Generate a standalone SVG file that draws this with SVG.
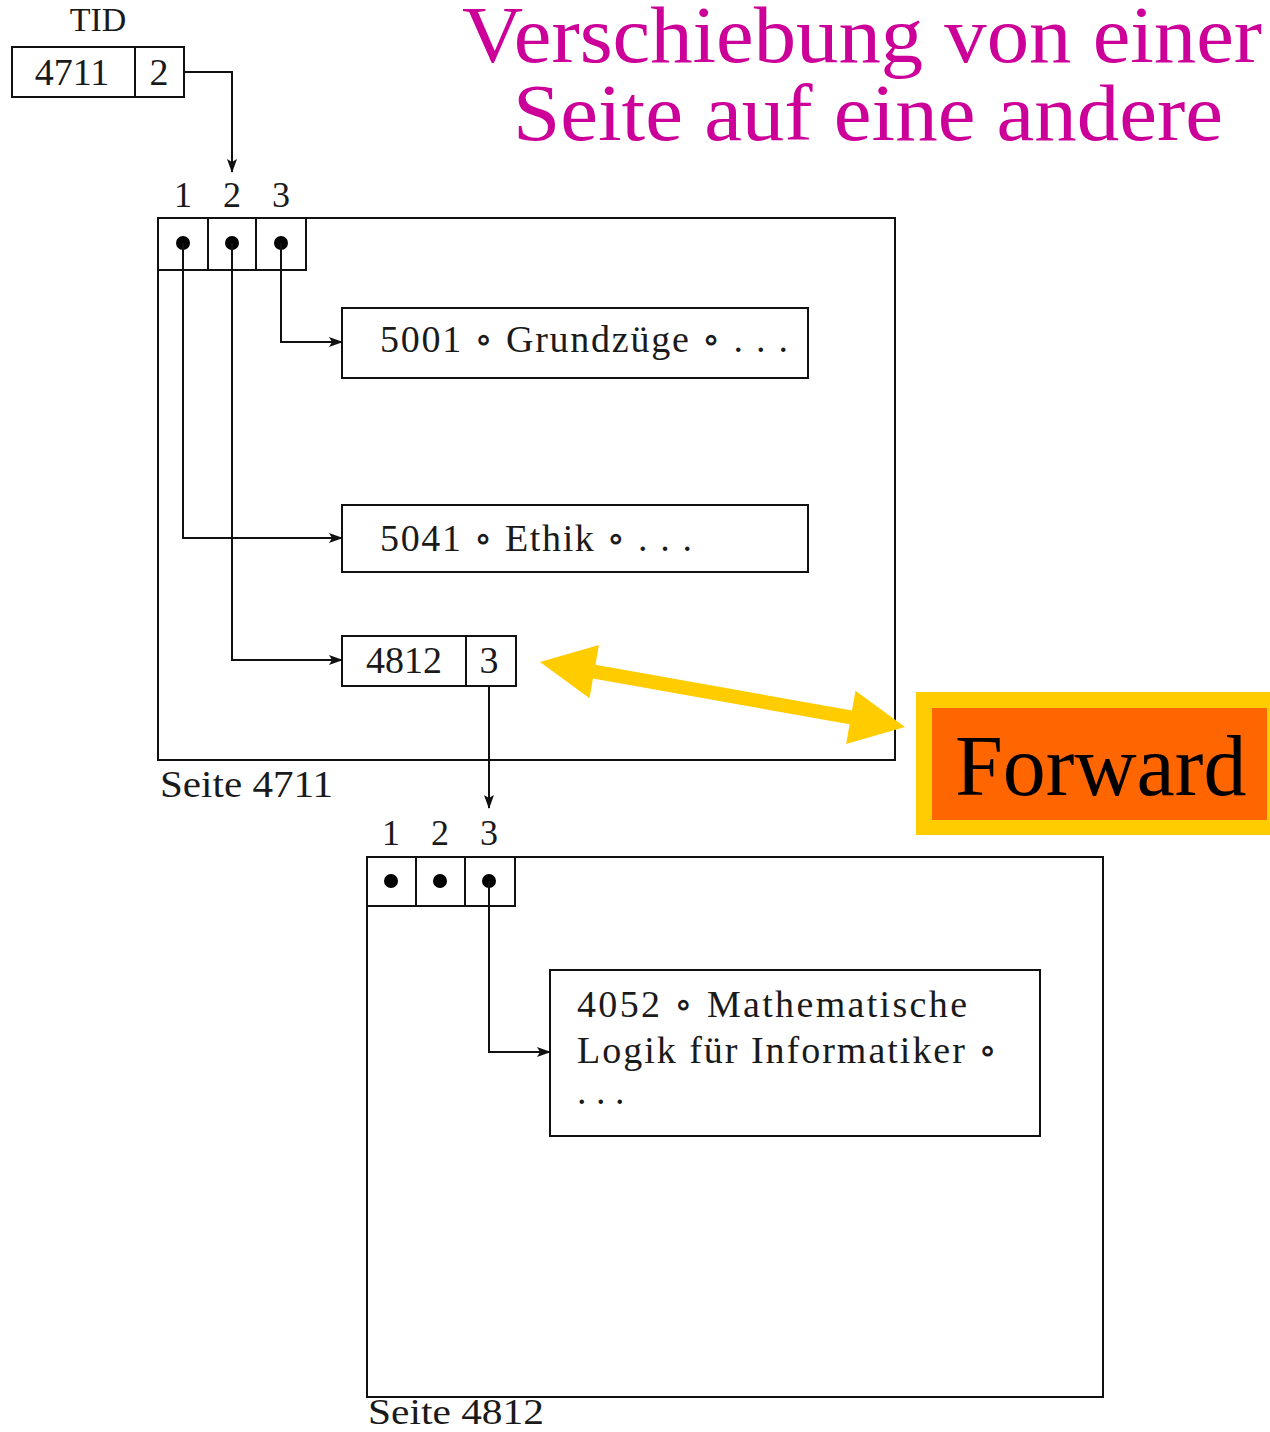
<svg xmlns="http://www.w3.org/2000/svg" width="1270" height="1432" viewBox="0 0 1270 1432">
<style>
.t{font-family:"Liberation Serif","DejaVu Serif",serif;fill:#1a1a1a}
.box{fill:#fff;stroke:#111;stroke-width:2}
.ln{fill:none;stroke:#111;stroke-width:2}
.title{font-family:"Liberation Serif","DejaVu Serif",serif;fill:#CC0099;font-size:80px}
</style>
<defs>
<marker id="ah" markerUnits="userSpaceOnUse" markerWidth="14" markerHeight="10" refX="13" refY="5" orient="auto">
<path d="M0,0 L14,5 L0,10 L3,5 Z" fill="#111"/>
</marker>
</defs>
<rect width="1270" height="1432" fill="#fff"/>

<g id="title">
<text class="title" x="462" y="62" textLength="800" lengthAdjust="spacingAndGlyphs">Verschiebung von einer</text>
<text class="title" x="513" y="140" textLength="710" lengthAdjust="spacingAndGlyphs">Seite auf eine andere</text>
</g>

<g id="tid">
<text class="t" x="98" y="31" font-size="34" text-anchor="middle">TID</text>
<rect class="box" x="12" y="47" width="172" height="50"/>
<line class="ln" x1="135" y1="47" x2="135" y2="97"/>
<text class="t" x="72" y="85" font-size="38" text-anchor="middle">4711</text>
<text class="t" x="159" y="85" font-size="38" text-anchor="middle">2</text>
</g>

<g id="page4711">
<rect class="box" x="158" y="218" width="737" height="542"/>
<rect class="box" x="158" y="218" width="148" height="52"/>
<line class="ln" x1="208" y1="218" x2="208" y2="270"/>
<line class="ln" x1="256" y1="218" x2="256" y2="270"/>
<circle cx="183" cy="243" r="7" fill="#000"/>
<circle cx="232" cy="243" r="7" fill="#000"/>
<circle cx="281" cy="243" r="7" fill="#000"/>
<text class="t" x="183" y="207" font-size="36" text-anchor="middle">1</text>
<text class="t" x="232" y="207" font-size="36" text-anchor="middle">2</text>
<text class="t" x="281" y="207" font-size="36" text-anchor="middle">3</text>
<text class="t" x="160" y="797" font-size="38" textLength="173" lengthAdjust="spacingAndGlyphs">Seite 4711</text>
</g>

<g id="rec5001">
<rect class="box" x="342" y="308" width="466" height="70"/>
<text class="t" x="380" y="352" font-size="38" textLength="408" lengthAdjust="spacing">5001 ∘ Grundzüge ∘ . . .</text>
</g>

<g id="rec5041">
<rect class="box" x="342" y="505" width="466" height="67"/>
<text class="t" x="380" y="551" font-size="38" textLength="312" lengthAdjust="spacing">5041 ∘ Ethik ∘ . . .</text>
</g>

<g id="fwd4812">
<rect class="box" x="342" y="636" width="174" height="50"/>
<line class="ln" x1="466" y1="636" x2="466" y2="686"/>
<text class="t" x="404" y="673" font-size="38" text-anchor="middle">4812</text>
<text class="t" x="489" y="673" font-size="38" text-anchor="middle">3</text>
</g>

<g id="page4812">
<rect class="box" x="367" y="857" width="736" height="540"/>
<rect class="box" x="367" y="857" width="148" height="49"/>
<line class="ln" x1="367" y1="857" x2="515" y2="857" stroke-width="4"/>
<line class="ln" x1="416" y1="857" x2="416" y2="906"/>
<line class="ln" x1="465" y1="857" x2="465" y2="906"/>
<circle cx="391" cy="881" r="7" fill="#000"/>
<circle cx="440" cy="881" r="7" fill="#000"/>
<circle cx="489" cy="881" r="7" fill="#000"/>
<text class="t" x="391" y="845" font-size="36" text-anchor="middle">1</text>
<text class="t" x="440" y="845" font-size="36" text-anchor="middle">2</text>
<text class="t" x="489" y="845" font-size="36" text-anchor="middle">3</text>
<text class="t" x="368" y="1424" font-size="36" textLength="176" lengthAdjust="spacingAndGlyphs">Seite 4812</text>
</g>

<g id="rec4052">
<rect class="box" x="550" y="970" width="490" height="166"/>
<text class="t" x="577" y="1017" font-size="38" textLength="390" lengthAdjust="spacing">4052 ∘ Mathematische</text>
<text class="t" x="577" y="1063" font-size="38" textLength="420" lengthAdjust="spacing">Logik für Informatiker ∘</text>
<text class="t" x="577" y="1104" font-size="38">. . .</text>
</g>

<g id="forward">
<rect x="916" y="692" width="354" height="143" fill="#FFCC00"/>
<rect x="932" y="708" width="335" height="112" fill="#FF6600"/>
<text x="955" y="795" font-family="Liberation Serif, serif" font-size="86" fill="#000">Forward</text>
</g>

<g id="connectors">
<path class="ln" d="M184,72 H232 V172" marker-end="url(#ah)"/>
<path class="ln" d="M183,243 V538 H342" marker-end="url(#ah)"/>
<path class="ln" d="M232,243 V660 H342" marker-end="url(#ah)"/>
<path class="ln" d="M281,243 V342 H342" marker-end="url(#ah)"/>
<path class="ln" d="M489,686 V808" marker-end="url(#ah)"/>
<path class="ln" d="M489,881 V1052 H550" marker-end="url(#ah)"/>
<polygon fill="#FFCC00" points="540,662 598.9,645.0 595.4,664.7 852.0,710.5 855.5,690.8 905,727 846.1,744.0 849.6,724.3 593.0,678.5 589.5,698.2"/>
</g>
</svg>
